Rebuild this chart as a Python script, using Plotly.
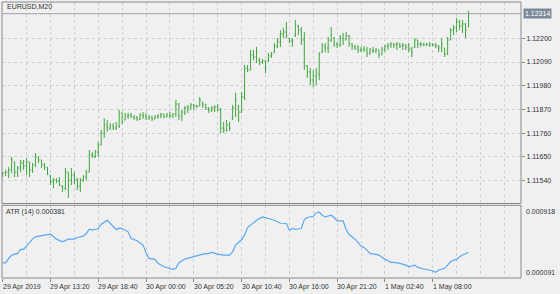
import plotly.graph_objects as go

# ---------------- data ----------------
symbol_title = "EURUSD,M20"
atr_title = "ATR (14) 0.000381"

open_ = [1.11562,1.11576,1.11580,1.11590,1.11627,1.11580,1.11599,1.11622,1.11608,1.11627,
         1.11590,1.11613,1.11650,1.11636,1.11613,1.11603,1.11562,1.11534,1.11543,1.11538,
         1.11515,1.11506,1.11580,1.11543,1.11566,1.11543,1.11515,1.11543,1.11557,1.11580,
         1.11659,1.11654,1.11673,1.11705,1.11761,1.11798,1.11784,1.11793,1.11784,1.11793,
         1.11854,1.11821,1.11840,1.11844,1.11835,1.11830,1.11826,1.11844,1.11840,1.11830,
         1.11835,1.11826,1.11835,1.11840,1.11849,1.11835,1.11844,1.11840,1.11849,1.11895,
         1.11840,1.11858,1.11877,1.11881,1.11891,1.11886,1.11886,1.11905,1.11895,1.11877,
         1.11868,1.11877,1.11881,1.11868,1.11784,1.11775,1.11798,1.11830,1.11877,1.11886,
         1.11858,1.11928,1.12062,1.12053,1.12123,1.12113,1.12099,1.12090,1.12095,1.12099,
         1.12118,1.12136,1.12164,1.12183,1.12220,1.12229,1.12201,1.12187,1.12215,1.12257,
         1.12238,1.12192,1.12072,1.12044,1.12007,1.12025,1.12035,1.12136,1.12164,1.12155,
         1.12192,1.12201,1.12173,1.12169,1.12201,1.12192,1.12211,1.12173,1.12164,1.12155,
         1.12146,1.12150,1.12146,1.12132,1.12146,1.12141,1.12146,1.12123,1.12150,1.12164,
         1.12169,1.12173,1.12169,1.12173,1.12164,1.12169,1.12160,1.12150,1.12160,1.12192,
         1.12173,1.12173,1.12169,1.12173,1.12169,1.12169,1.12164,1.12155,1.12155,1.12127,
         1.12192,1.12238,1.12248,1.12276,1.12257,1.12266,1.12252]
high = [1.11580,1.11590,1.11603,1.11650,1.11627,1.11608,1.11636,1.11636,1.11645,1.11627,
        1.11622,1.11668,1.11650,1.11636,1.11622,1.11603,1.11566,1.11552,1.11552,1.11557,
        1.11520,1.11599,1.11580,1.11599,1.11580,1.11552,1.11552,1.11566,1.11590,1.11682,
        1.11673,1.11682,1.11719,1.11775,1.11830,1.11821,1.11807,1.11807,1.11812,1.11868,
        1.11854,1.11854,1.11854,1.11854,1.11844,1.11840,1.11854,1.11858,1.11854,1.11844,
        1.11840,1.11844,1.11849,1.11854,1.11849,1.11854,1.11858,1.11854,1.11914,1.11900,
        1.11868,1.11886,1.11891,1.11900,1.11895,1.11891,1.11928,1.11905,1.11895,1.11881,
        1.11886,1.11891,1.11895,1.11877,1.11812,1.11821,1.11812,1.11891,1.11947,1.11891,
        1.11951,1.12076,1.12076,1.12146,1.12146,1.12160,1.12109,1.12104,1.12099,1.12132,
        1.12136,1.12178,1.12201,1.12238,1.12248,1.12276,1.12201,1.12201,1.12285,1.12262,
        1.12252,1.12229,1.12076,1.12062,1.12053,1.12062,1.12136,1.12178,1.12178,1.12206,
        1.12252,1.12206,1.12183,1.12215,1.12225,1.12229,1.12215,1.12178,1.12169,1.12169,
        1.12160,1.12164,1.12160,1.12155,1.12160,1.12155,1.12146,1.12160,1.12169,1.12178,
        1.12183,1.12178,1.12183,1.12178,1.12178,1.12173,1.12178,1.12160,1.12201,1.12192,
        1.12183,1.12178,1.12178,1.12183,1.12178,1.12178,1.12169,1.12201,1.12155,1.12206,
        1.12248,1.12262,1.12294,1.12285,1.12285,1.12271,1.12327]
low = [1.11557,1.11562,1.11552,1.11576,1.11557,1.11557,1.11580,1.11590,1.11566,1.11557,
       1.11576,1.11603,1.11622,1.11599,1.11590,1.11566,1.11520,1.11506,1.11529,1.11515,
       1.11487,1.11497,1.11460,1.11520,1.11524,1.11497,1.11487,1.11534,1.11543,1.11580,
       1.11645,1.11645,1.11650,1.11705,1.11738,1.11766,1.11775,1.11775,1.11775,1.11784,
       1.11803,1.11821,1.11826,1.11830,1.11821,1.11817,1.11821,1.11826,1.11821,1.11821,
       1.11817,1.11826,1.11826,1.11830,1.11830,1.11835,1.11830,1.11830,1.11835,1.11821,
       1.11817,1.11844,1.11854,1.11868,1.11868,1.11877,1.11886,1.11877,1.11868,1.11854,
       1.11858,1.11858,1.11863,1.11761,1.11761,1.11766,1.11770,1.11821,1.11835,1.11812,
       1.11854,1.11914,1.12044,1.12053,1.12099,1.12085,1.12076,1.12081,1.12039,1.12090,
       1.12109,1.12132,1.12155,1.12160,1.12201,1.12201,1.12178,1.12160,1.12206,1.12215,
       1.12169,1.12053,1.12016,1.11984,1.11974,1.11984,1.12007,1.12132,1.12136,1.12132,
       1.12183,1.12160,1.12155,1.12160,1.12169,1.12192,1.12160,1.12146,1.12146,1.12132,
       1.12136,1.12136,1.12113,1.12123,1.12132,1.12132,1.12109,1.12123,1.12136,1.12146,
       1.12155,1.12155,1.12146,1.12155,1.12146,1.12146,1.12136,1.12113,1.12155,1.12155,
       1.12160,1.12164,1.12164,1.12160,1.12164,1.12155,1.12136,1.12136,1.12113,1.12123,
       1.12192,1.12215,1.12229,1.12238,1.12225,1.12201,1.12252]
close = [1.11576,1.11580,1.11590,1.11636,1.11580,1.11599,1.11622,1.11608,1.11627,1.11590,
         1.11613,1.11650,1.11636,1.11613,1.11603,1.11571,1.11534,1.11543,1.11538,1.11520,
         1.11506,1.11580,1.11543,1.11566,1.11543,1.11515,1.11543,1.11557,1.11580,1.11659,
         1.11654,1.11673,1.11705,1.11761,1.11798,1.11784,1.11793,1.11784,1.11793,1.11854,
         1.11812,1.11840,1.11844,1.11835,1.11830,1.11826,1.11844,1.11840,1.11830,1.11835,
         1.11826,1.11835,1.11840,1.11849,1.11835,1.11844,1.11840,1.11849,1.11895,1.11840,
         1.11858,1.11877,1.11881,1.11891,1.11886,1.11886,1.11914,1.11895,1.11877,1.11868,
         1.11877,1.11881,1.11868,1.11784,1.11775,1.11798,1.11784,1.11877,1.11914,1.11858,
         1.11928,1.12062,1.12053,1.12123,1.12113,1.12136,1.12090,1.12095,1.12062,1.12118,
         1.12127,1.12164,1.12183,1.12220,1.12229,1.12211,1.12187,1.12192,1.12266,1.12238,
         1.12192,1.12072,1.12044,1.12007,1.12025,1.12044,1.12123,1.12164,1.12155,1.12192,
         1.12215,1.12173,1.12169,1.12201,1.12192,1.12211,1.12173,1.12164,1.12155,1.12146,
         1.12150,1.12146,1.12132,1.12146,1.12141,1.12146,1.12123,1.12150,1.12164,1.12169,
         1.12173,1.12169,1.12173,1.12164,1.12169,1.12160,1.12150,1.12136,1.12192,1.12173,
         1.12173,1.12169,1.12173,1.12169,1.12169,1.12164,1.12155,1.12173,1.12127,1.12192,
         1.12238,1.12248,1.12276,1.12257,1.12266,1.12238,1.12314]

bar_index = list(range(len(close)))

atr_bar = [0,1,2,3,5,6,7,8,9,10,11,12,14,16,17,18,20,21,22,24,25,27,28,29,30,32,33,35,37,38,39,40,
           42,43,45,47,48,49,51,52,54,56,57,58,59,61,63,65,67,69,70,72,74,76,77,78,80,81,82,83,85,
           87,88,90,91,93,95,96,97,98,100,101,102,104,105,106,107,108,110,111,112,114,115,116,118,
           120,121,123,125,126,128,130,131,133,135,136,138,139,141,143,144,145,146,148,150,151,152,
           153,154,156]
atr_value = [0.000264,0.000264,0.000314,0.000352,0.000371,0.000416,0.000416,0.000454,0.000502,
             0.000533,0.000559,0.000567,0.000578,0.000590,0.000559,0.000533,0.000502,0.000514,
             0.000533,0.000533,0.000552,0.000567,0.000597,0.000646,0.000635,0.000654,0.000703,
             0.000748,0.000672,0.000643,0.000658,0.000654,0.000616,0.000541,0.000514,0.000465,
             0.000378,0.000314,0.000303,0.000258,0.000219,0.000201,0.000190,0.000201,0.000264,
             0.000306,0.000326,0.000340,0.000363,0.000371,0.000382,0.000363,0.000352,0.000352,
             0.000389,0.000465,0.000529,0.000578,0.000665,0.000691,0.000748,0.000786,0.000779,
             0.000759,0.000748,0.000714,0.000711,0.000635,0.000654,0.000643,0.000654,0.000756,
             0.000779,0.000793,0.000831,0.000842,0.000805,0.000786,0.000805,0.000779,0.000740,
             0.000740,0.000643,0.000586,0.000533,0.000454,0.000439,0.000371,0.000360,0.000352,
             0.000303,0.000269,0.000269,0.000258,0.000238,0.000219,0.000238,0.000212,0.000193,
             0.000182,0.000174,0.000156,0.000182,0.000201,0.000276,0.000295,0.000303,0.000332,
             0.000352,0.000381]

time_tick_bars = [0,16,32,48,64,80,96,112,128,144]
time_tick_labels = ["29 Apr 2019","29 Apr 13:20","29 Apr 18:40","30 Apr 00:00","30 Apr 05:20",
                    "30 Apr 10:40","30 Apr 16:00","30 Apr 21:20","1 May 02:40","1 May 08:00"]
price_ticks = [1.11540,1.11650,1.11760,1.11870,1.11980,1.12090,1.12200]
current_price = 1.12314
atr_scale = [0.000091, 0.000918]
price_range = [1.114343, 1.123682]

# ---------------- style ----------------
FONT = "Liberation Sans"
FS = 7
TXT = "#333333"
BG = "#f0f0f0"
GRID = "#cfcfcf"
BORDER = "#8a8a8a"
GREEN = "#3fa63f"
BLUE = "#5aa8f2"

W, H = 560, 294
ML, MR, MT, MB = 2, 39, 2, 16
plot_h = H - MT - MB
def py(pix):
    return (H - MB - pix) / plot_h

main_dom = [py(203.5), 1.0]
atr_dom = [0.0, py(205.3)]
xrange_ = [-0.234, 173.57]

grid_all = list(range(0, 174, 8))
minor_grid = [v for v in grid_all if v not in time_tick_bars]

fig = go.Figure()
fig.add_trace(go.Ohlc(
    x=bar_index, open=open_, high=high, low=low, close=close,
    increasing=dict(line=dict(color=GREEN, width=1)),
    decreasing=dict(line=dict(color=GREEN, width=1)),
    tickwidth=0.34, xaxis="x", yaxis="y", hoverinfo="skip", showlegend=False))
fig.add_trace(go.Scatter(
    x=atr_bar, y=atr_value, mode="lines", line=dict(color=BLUE, width=1.2),
    xaxis="x2", yaxis="y2", hoverinfo="skip", showlegend=False))

axis_common = dict(zeroline=False, showline=False)
fig.update_layout(
    width=W, height=H,
    margin=dict(l=ML, r=MR, t=MT, b=MB, pad=0),
    paper_bgcolor=BG, plot_bgcolor=BG,
    font=dict(family=FONT, size=FS, color=TXT),
    showlegend=False,
    xaxis=dict(domain=[0, 1], anchor="y", range=xrange_, rangeslider=dict(visible=False),
               tickmode="array", tickvals=grid_all, showticklabels=False, ticks="",
               showgrid=True, gridcolor=GRID, griddash="dot", gridwidth=1, **axis_common),
    yaxis=dict(domain=main_dom, anchor="x", side="right", range=price_range,
               tickmode="array", tickvals=price_ticks, ticktext=[f"{v:.5f}" for v in price_ticks],
               ticks="outside", ticklen=3, tickcolor=BORDER, tickfont=dict(size=FS, color=TXT),
               showgrid=True, gridcolor=GRID, griddash="dot", gridwidth=1, **axis_common),
    xaxis2=dict(domain=[0, 1], anchor="y2", range=xrange_, matches="x",
                tickmode="array", tickvals=time_tick_bars, showticklabels=False,
                ticks="outside", ticklen=3, tickcolor=BORDER,
                showgrid=True, gridcolor=GRID, griddash="dot", gridwidth=1,
                minor=dict(tickmode="array", tickvals=minor_grid, showgrid=True,
                           gridcolor=GRID, griddash="dot", ticks=""),
                **axis_common),
    yaxis2=dict(domain=atr_dom, anchor="x2", side="right", range=atr_scale,
                showticklabels=False, showgrid=False, ticks="", **axis_common),
)

shapes = [
    dict(type="rect", xref="paper", yref="y domain", x0=0, x1=1, y0=0, y1=1,
         line=dict(color=BORDER, width=1)),
    dict(type="rect", xref="paper", yref="y2 domain", x0=0, x1=1, y0=0, y1=1,
         line=dict(color=BORDER, width=1)),
    dict(type="line", xref="paper", yref="y", x0=0, x1=1, y0=current_price, y1=current_price,
         line=dict(color="#9aa3ad", width=1)),
]
fig.update_layout(shapes=shapes)

ann = [
    dict(text=symbol_title, xref="paper", yref="paper", x=0, y=py(6.5), xanchor="left",
         yanchor="middle", xshift=3, showarrow=False, font=dict(size=FS, color=TXT)),
    dict(text=atr_title, xref="paper", yref="paper", x=0, y=py(211.7), xanchor="left",
         yanchor="middle", xshift=2, showarrow=False, font=dict(size=FS, color=TXT)),
    dict(text=f"{current_price:.5f}", xref="paper", yref="y", x=1, y=current_price,
         xanchor="left", yanchor="middle", xshift=2, showarrow=False,
         bgcolor="#7b8998", borderpad=1, font=dict(size=FS, color="#ffffff")),
    dict(text=f"{atr_scale[1]:.6f}", xref="paper", yref="y2", x=1, y=atr_scale[1],
         xanchor="left", yanchor="top", xshift=3, yshift=-1, showarrow=False,
         font=dict(size=FS, color=TXT)),
    dict(text=f"{atr_scale[0]:.6f}", xref="paper", yref="y2", x=1, y=atr_scale[0],
         xanchor="left", yanchor="bottom", xshift=3, yshift=0, showarrow=False,
         font=dict(size=FS, color=TXT)),
]
for b, lab in zip(time_tick_bars, time_tick_labels):
    ann.append(dict(text=lab, xref="x2", yref="paper", x=b, y=py(286.5), xanchor="left",
                    yanchor="middle", xshift=-2, showarrow=False, font=dict(size=FS, color=TXT)))
fig.update_layout(annotations=ann)

fig.write_html("out.html")
